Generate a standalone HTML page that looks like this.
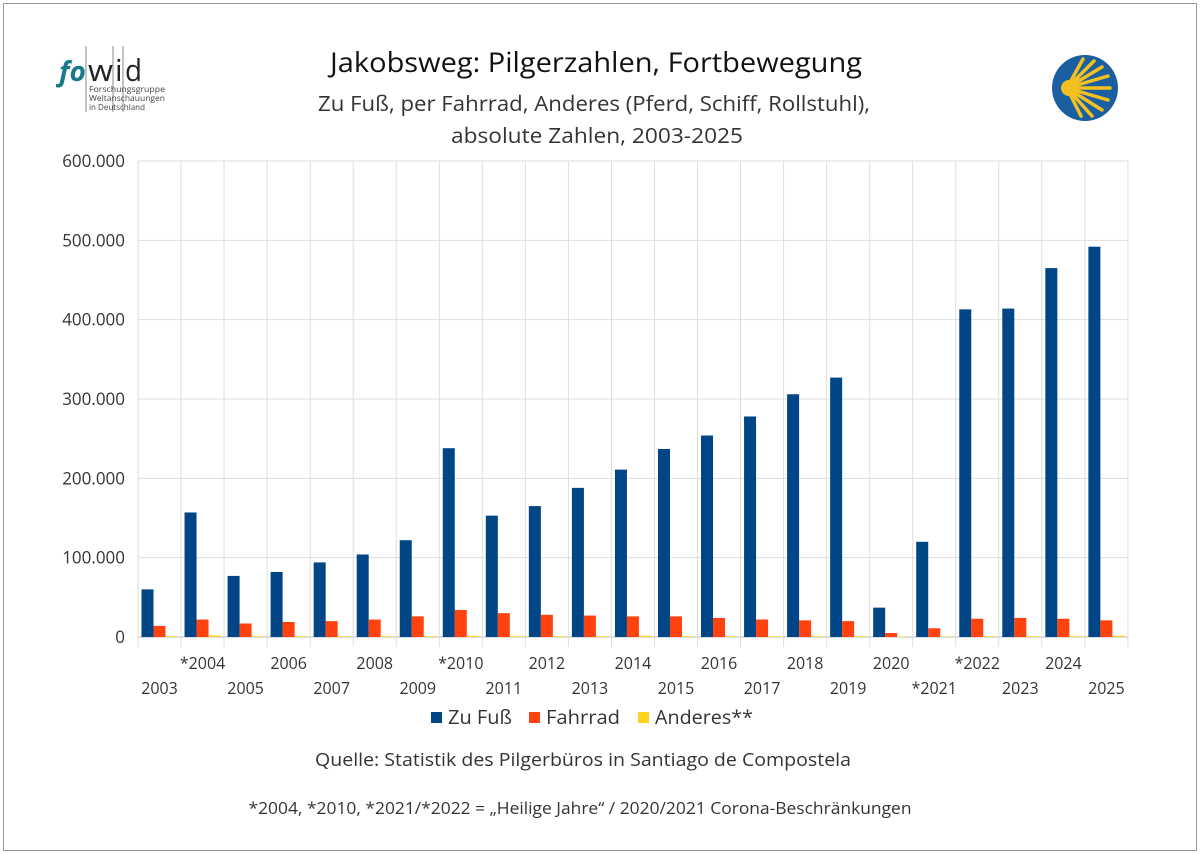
<!DOCTYPE html>
<html><head><meta charset="utf-8"><style>
body{margin:0;background:#fff}
svg{display:block;font-family:"Open Sans","Liberation Sans","DejaVu Sans",sans-serif}
</style></head><body>
<svg width="1200" height="854" viewBox="0 0 1200 854" xmlns="http://www.w3.org/2000/svg">
<rect x="3.5" y="3.5" width="1193" height="847" fill="#fff" stroke="#999" stroke-width="1"/>
<!-- logo -->
<text x="59" y="81" font-size="28" font-weight="bold" font-style="italic" fill="#1a7a8c">fo</text>
<line x1="86" y1="46" x2="86" y2="112" stroke="#888" stroke-width="1"/>
<line x1="113" y1="46" x2="113" y2="112" stroke="#888" stroke-width="1"/>
<line x1="123" y1="46" x2="123" y2="112" stroke="#888" stroke-width="1"/>
<text x="88" y="81" font-size="30" fill="#222" textLength="25" lengthAdjust="spacingAndGlyphs">w</text>
<text x="115" y="81" font-size="30" fill="#222">i</text>
<text x="125" y="81" font-size="30" fill="#222" textLength="17" lengthAdjust="spacingAndGlyphs">d</text>
<text x="89" y="92" font-size="8" fill="#444" textLength="76" lengthAdjust="spacingAndGlyphs">Forschungsgruppe</text>
<text x="89" y="101" font-size="8" fill="#444" textLength="76" lengthAdjust="spacingAndGlyphs">Weltanschauungen</text>
<text x="89" y="110" font-size="8" fill="#444" textLength="56" lengthAdjust="spacingAndGlyphs">in Deutschland</text>
<!-- shell logo -->
<circle cx="1085" cy="88" r="33" fill="#1a5fa0"/>
<g stroke="#f4c020" stroke-width="3.5" stroke-linecap="round">
<line x1="1067" y1="88" x2="1110" y2="88"/>
<line x1="1067" y1="88" x2="1108" y2="76"/>
<line x1="1067" y1="88" x2="1102" y2="67"/>
<line x1="1067" y1="88" x2="1094" y2="61"/>
<line x1="1067" y1="88" x2="1083" y2="59"/>
<line x1="1067" y1="88" x2="1108" y2="100"/>
<line x1="1067" y1="88" x2="1102" y2="110"/>
<line x1="1067" y1="88" x2="1092" y2="116"/>
<line x1="1067" y1="88" x2="1081" y2="116"/>
</g>
<circle cx="1069" cy="88" r="8" fill="#f4c020"/>
<!-- titles -->
<text x="596" y="72" font-size="27" text-anchor="middle" fill="#111" textLength="532" lengthAdjust="spacingAndGlyphs">Jakobsweg: Pilgerzahlen, Fortbewegung</text>
<text x="594" y="111" font-size="21" text-anchor="middle" fill="#333" textLength="552" lengthAdjust="spacingAndGlyphs">Zu Fuß, per Fahrrad, Anderes (Pferd, Schiff, Rollstuhl),</text>
<text x="597" y="143" font-size="21" text-anchor="middle" fill="#333" textLength="292" lengthAdjust="spacingAndGlyphs">absolute Zahlen, 2003-2025</text>
<g id="chart"></g>
<!-- legend -->
<rect x="431" y="712" width="11" height="11" fill="#004586"/>
<text x="448" y="724" font-size="19" fill="#333" textLength="64" lengthAdjust="spacingAndGlyphs">Zu Fuß</text>
<rect x="529" y="712" width="11" height="11" fill="#ff420e"/>
<text x="546" y="724" font-size="19" fill="#333" textLength="74" lengthAdjust="spacingAndGlyphs">Fahrrad</text>
<rect x="638" y="712" width="11" height="11" fill="#ffd320"/>
<text x="655" y="724" font-size="19" fill="#333" textLength="98" lengthAdjust="spacingAndGlyphs">Anderes**</text>
<text x="583" y="766" font-size="18" text-anchor="middle" fill="#333" textLength="536" lengthAdjust="spacingAndGlyphs">Quelle: Statistik des Pilgerbüros in Santiago de Compostela</text>
<text x="580" y="814" font-size="16" text-anchor="middle" fill="#333" textLength="663" lengthAdjust="spacingAndGlyphs">*2004, *2010, *2021/*2022 = „Heilige Jahre“ / 2020/2021 Corona-Beschränkungen</text>
</svg>
<script>
const g=document.getElementById('chart');const NS='http://www.w3.org/2000/svg';
function el(t,a,txt){const e=document.createElementNS(NS,t);for(const k in a)e.setAttribute(k,a[k]);if(txt)e.textContent=txt;g.appendChild(e);}
const x0=138,w=43.04,y0=637,s=0.7933/1000;
for(let i=0;i<=6;i++){const y=y0-i*100000*s;el('line',{x1:x0,x2:x0+23*w,y1:y,y2:y,stroke:i?'#ddd':'#bbb','stroke-width':1});
el('text',{x:125,y:y+6,'font-size':17,'text-anchor':'end',fill:'#333'},i?(i*100)+'.000':'0');}
for(let i=0;i<=23;i++){const x=x0+i*w;el('line',{x1:x,x2:x,y1:161,y2:y0+10,stroke:'#ddd','stroke-width':1});}
const A=[60,157,77,82,94,104,122,238,153,165,188,211,237,254,278,306,327,37,120,413,414,465,492];
const B=[14,22,17,19,20,22,26,34,30,28,27,26,26,24,22,21,20,5,11,23,24,23,21];
const C=[1,2,1,1,1,1,1,1.5,1,1,1,1.5,1,1,1,1,1,0.5,0.5,1,1,1,1.5];
const lab=['2003','*2004','2005','2006','2007','2008','2009','*2010','2011','2012','2013','2014','2015','2016','2017','2018','2019','2020','*2021','*2022','2023','2024','2025'];
for(let i=0;i<23;i++){const gx=x0+i*w+3.5;
[[A,'#004586'],[B,'#ff420e'],[C,'#ffd320']].forEach(([d,c],j)=>{const h=d[i]*1000*s;el('rect',{x:gx+j*12,y:y0-h,width:12,height:h,fill:c});});
const cx=x0+i*w+w/2;el('text',{x:cx,y:i%2?669:694,'font-size':16,'text-anchor':'middle',fill:'#333'},lab[i]);}
</script>
</body></html>
